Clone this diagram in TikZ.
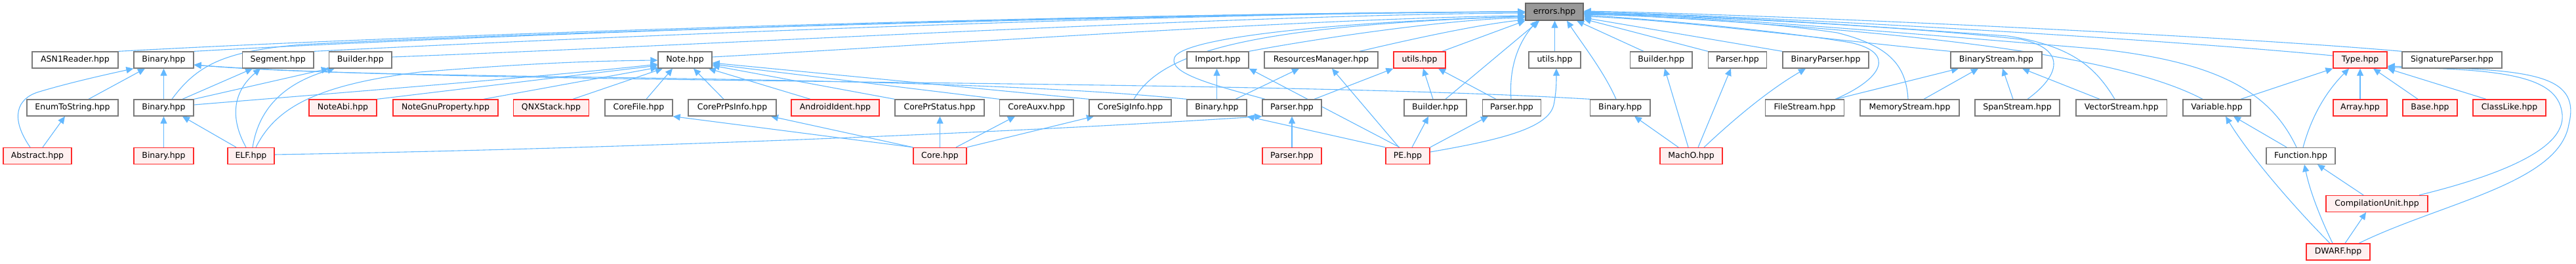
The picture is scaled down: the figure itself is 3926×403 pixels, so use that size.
\documentclass[tikz,border=0pt]{standalone}
\usepackage{fontspec}
\setmainfont{DejaVu Sans}
\usetikzlibrary{arrows.meta}
\definecolor{edgeblue}{HTML}{63B8FF}
\definecolor{boxgray}{HTML}{7A7A7A}
\definecolor{rootfill}{HTML}{999999}
\definecolor{rootdraw}{HTML}{666666}
\definecolor{redfill}{HTML}{FFF0F0}
\definecolor{reddraw}{HTML}{FF2A2A}
\pgfdeclarelayer{bg}
\pgfsetlayers{bg,main}
\begin{document}
\begin{tikzpicture}[x=1pt,y=-1pt,
 gbox/.style={rectangle, inner sep=0pt, minimum height=25pt, line width=1.3pt, font=\fontsize{12.5pt}{15pt}\selectfont, text=black},
 nbox/.style={gbox, draw=boxgray, fill=white},
 rbox/.style={gbox, draw=reddraw, fill=redfill},
 rootbox/.style={gbox, draw=rootdraw, fill=rootfill, minimum height=26pt},
 dep/.style={draw=edgeblue, line width=1.1pt, -{Triangle[length=11pt,width=10pt]}}]
\useasboundingbox (0,0) rectangle (3926,403);
% root
\node[rootbox, minimum width=88pt] (errors) at (2369,18) {errors.hpp};
% row 1
\node[nbox, minimum width=131pt] (asn) at (114.5,91.5) {ASN1Reader.hpp};
\node[nbox, minimum width=91pt] (binA) at (249.5,91.5) {Binary.hpp};
\node[nbox, minimum width=108.5pt] (seg) at (423.75,91.5) {Segment.hpp};
\node[nbox, minimum width=95.5pt] (bldA) at (549.25,91.5) {Builder.hpp};
\node[nbox, minimum width=82pt] (note) at (1044,91.5) {Note.hpp};
\node[nbox, minimum width=94pt] (imp) at (1856,91.5) {Import.hpp};
\node[nbox, minimum width=173pt] (res) at (2013.5,91.5) {ResourcesManager.hpp};
\node[rbox, minimum width=79pt] (utilR) at (2163.5,91.5) {utils.hpp};
\node[nbox, minimum width=79pt] (utilW) at (2369.5,91.5) {utils.hpp};
\node[nbox, minimum width=94.5pt] (bldB) at (2531.75,91.5) {Builder.hpp};
\node[nbox, minimum width=89pt] (parA) at (2648,91.5) {Parser.hpp};
\node[nbox, minimum width=131pt] (bparse) at (2782.5,91.5) {BinaryParser.hpp};
\node[nbox, minimum width=139pt] (bstream) at (3042.5,91.5) {BinaryStream.hpp};
\node[rbox, minimum width=82pt] (type) at (3597,91.5) {Type.hpp};
\node[nbox, minimum width=152pt] (sig) at (3737,91.5) {SignatureParser.hpp};
% row 2
\node[nbox, minimum width=139pt] (enum) at (110.5,164.5) {EnumToString.hpp};
\node[nbox, minimum width=91pt] (binB) at (249.5,164.5) {Binary.hpp};
\node[rbox, minimum width=103pt] (noteabi) at (522.5,164.5) {NoteAbi.hpp};
\node[rbox, minimum width=160pt] (notegnu) at (679,164.5) {NoteGnuProperty.hpp};
\node[rbox, minimum width=114.5pt] (qnx) at (840,164.5) {QNXStack.hpp};
\node[nbox, minimum width=103pt] (corefile) at (973.5,164.5) {CoreFile.hpp};
\node[nbox, minimum width=134pt] (coreprps) at (1116,164.5) {CorePrPsInfo.hpp};
\node[rbox, minimum width=134pt] (android) at (1273,164.5) {AndroidIdent.hpp};
\node[nbox, minimum width=136pt] (coreprst) at (1432,164.5) {CorePrStatus.hpp};
\node[nbox, minimum width=112.5pt] (coreauxv) at (1579.75,164.5) {CoreAuxv.hpp};
\node[nbox, minimum width=125pt] (coresig) at (1722.5,164.5) {CoreSigInfo.hpp};
\node[nbox, minimum width=91pt] (binC) at (1854.5,164.5) {Binary.hpp};
\node[nbox, minimum width=90pt] (parB) at (1969,164.5) {Parser.hpp};
\node[nbox, minimum width=95pt] (bldC) at (2187.5,164.5) {Builder.hpp};
\node[nbox, minimum width=89pt] (parC) at (2304,164.5) {Parser.hpp};
\node[nbox, minimum width=91.5pt] (binD) at (2469.25,164.5) {Binary.hpp};
\node[nbox, minimum width=120pt] (filestream) at (2750.5,164.5) {FileStream.hpp};
\node[nbox, minimum width=151pt] (memstream) at (2910.5,164.5) {MemoryStream.hpp};
\node[nbox, minimum width=129pt] (spanstream) at (3074.5,164.5) {SpanStream.hpp};
\node[nbox, minimum width=138.5pt] (vecstream) at (3233.25,164.5) {VectorStream.hpp};
\node[nbox, minimum width=103pt] (variable) at (3378.5,164.5) {Variable.hpp};
\node[rbox, minimum width=82pt] (array) at (3597,164.5) {Array.hpp};
\node[rbox, minimum width=83pt] (base) at (3703.5,164.5) {Base.hpp};
\node[rbox, minimum width=111pt] (classlike) at (3824.5,164.5) {ClassLike.hpp};
% row 3
\node[rbox, minimum width=104pt] (abstract) at (57,238) {Abstract.hpp};
\node[rbox, minimum width=91pt] (binE) at (249.5,238) {Binary.hpp};
\node[rbox, minimum width=71pt] (elf) at (382.5,238) {ELF.hpp};
\node[rbox, minimum width=81pt] (core) at (1432.5,238) {Core.hpp};
\node[rbox, minimum width=90pt] (parD) at (1969,238) {Parser.hpp};
\node[rbox, minimum width=67pt] (pe) at (2145.5,238) {PE.hpp};
\node[rbox, minimum width=95pt] (macho) at (2577.5,238) {MachO.hpp};
\node[nbox, minimum width=105pt] (function) at (3506.5,238) {Function.hpp};
% rows 4-5
\node[rbox, minimum width=155pt] (cu) at (3622.5,311) {CompilationUnit.hpp};
\node[rbox, minimum width=97pt] (dwarf) at (3563.5,384.5) {DWARF.hpp};

\begin{pgfonlayer}{bg}
% ---- into errors.hpp, left side
\draw[dep] (asn.north east) .. controls (700,50) and (1700,20) .. (errors.west |- 0,18);
\draw[dep] (binA.north east) .. controls (800,50) and (1700,20) .. (errors.west |- 0,18);
\draw[dep] (seg.north east) .. controls (1000,52) and (1800,20) .. (errors.west |- 0,18);
\draw[dep] (bldA.east |- 0,87) .. controls (1100,68) and (1900,22) .. (errors.west |- 0,20);
\draw[dep] (binB.north -| 262,0) .. controls (300,100) and (340,78) .. (460,68) .. controls (900,45) and (1900,20) .. (errors.west |- 0,18);
\draw[dep] (note.east |- 0,87) .. controls (1400,70) and (2000,28) .. (errors.west |- 0,24);
\draw[dep] (coresig.north -| 1728,0) .. controls (1770,80) and (1900,40) .. (errors.west |- 0,25);
\draw[dep] (parB.north -| 1928,0) .. controls (1850,130) and (1780,112) .. (1790,88) .. controls (1800,60) and (2000,35) .. (errors.west |- 0,25);
\draw[dep] (imp.north east) .. controls (2000,60) and (2200,30) .. (errors.west |- 0,27);
\draw[dep] (res.north -| 2072,0) .. controls (2150,60) and (2250,38) .. (errors.west |- 0,30);
\draw[dep] (utilR.north -| 2198,0) -- (errors.south west);
\draw[dep] (bldC.north -| 2203,0) -- (errors.south -| 2346,0);
\draw[dep] (parC.north -| 2303,0) .. controls (2300,110) and (2310,70) .. (errors.south -| 2343,0);
\draw[dep] (utilW.north) -- (utilW.north |- errors.south);
\draw[dep] (binD.north -| 2463,0) .. controls (2445,110) and (2410,65) .. (errors.south -| 2388,0);
\draw[dep] (bldB.north -| 2505,0) -- (errors.south -| 2403,0);
% ---- into errors.hpp, right side
\draw[dep] (parA.north west) -- (errors.east |- 0,29);
\draw[dep] (bparse.north west) -- (errors.east |- 0,27);
\draw[dep] (bstream.north west) .. controls (2800,62) and (2550,30) .. (errors.east |- 0,25);
\draw[dep] (filestream.north -| 2797,0) .. controls (2870,120) and (2890,80) .. (2820,65) .. controls (2700,45) and (2500,28) .. (errors.east |- 0,23);
\draw[dep] (memstream.north -| 2908,0) .. controls (2905,100) and (2880,70) .. (2800,50) .. controls (2700,35) and (2550,25) .. (errors.east |- 0,22);
\draw[dep] (spanstream.north -| 3090,0) .. controls (3140,115) and (3150,75) .. (3080,60) .. controls (2900,40) and (2600,25) .. (errors.east |- 0,21);
\draw[dep] (vecstream.north -| 3223,0) .. controls (3195,105) and (3160,70) .. (3060,55) .. controls (2850,40) and (2600,22) .. (errors.east |- 0,20);
\draw[dep] (variable.north -| 3357,0) .. controls (3250,95) and (3000,50) .. (errors.east |- 0,20);
\draw[dep] (function.north -| 3500,0) .. controls (3460,140) and (3380,95) .. (3200,75) .. controls (2900,50) and (2600,25) .. (errors.east |- 0,19);
\draw[dep] (type.west |- 0,85) .. controls (3300,60) and (2700,25) .. (errors.east |- 0,18);
\draw[dep] (sig.north west) .. controls (3400,55) and (2700,22) .. (errors.east |- 0,17);
% ---- Abstract / ELF area
\draw[dep] (abstract.north -| 46,0) .. controls (15,180) and (25,150) .. (60,140) .. controls (110,125) and (170,112) .. (binA.south west);
\draw[dep] (abstract.north -| 65,0) -- (enum.south -| 99,0);
\draw[dep] (enum.north -| 135,0) -- (binA.south -| 221,0);
\draw[dep] (binB.north) -- (binA.south);
\draw[dep] (binB.north -| 278,0) -- (seg.south -| 385,0);
\draw[dep] (binB.north east) -- (bldA.south west);
\draw[dep] (binB.east |- 0,160) .. controls (600,135) and (850,115) .. (note.west |- 0,98);
\draw[dep] (binE.north) -- (binB.south);
\draw[dep] (elf.north -| 360,0) -- (binB.south -| 278,0);
\draw[dep] (elf.north -| 375,0) .. controls (350,180) and (355,140) .. (seg.south -| 397,0);
\draw[dep] (elf.north -| 385,0) .. controls (395,160) and (440,125) .. (bldA.south -| 510,0);
\draw[dep] (elf.north -| 390,0) .. controls (420,165) and (480,130) .. (640,110) .. controls (800,97) and (900,93) .. (note.west |- 0,92);
\draw[dep] (elf.east |- 0,236) .. controls (900,228) and (1500,205) .. (parB.south west);
% ---- Note
\draw[dep] (noteabi.north east) -- (note.west |- 0,100);
\draw[dep] (notegnu.north -| 737,0) -- (note.west |- 0,103);
\draw[dep] (qnx.north -| 873,0) -- (note.south -| 1010,0);
\draw[dep] (corefile.north -| 985,0) -- (note.south -| 1025,0);
\draw[dep] (coreprps.north -| 1103,0) -- (note.south -| 1057,0);
\draw[dep] (android.north -| 1235,0) -- (note.south -| 1080,0);
\draw[dep] (coreprst.north west) -- (note.east |- 0,100);
\draw[dep] (coreauxv.north west) -- (note.east |- 0,98);
\draw[dep] (coresig.north west) -- (note.east |- 0,96);
% ---- Core
\draw[dep] (core.north west) -- (corefile.south east);
\draw[dep] (core.north west) -- (coreprps.south -| 1175,0);
\draw[dep] (core.north) -- (core.north |- coreprst.south);
\draw[dep] (core.north -| 1457,0) -- (coreauxv.south -| 1547,0);
\draw[dep] (core.north east) -- (coresig.south -| 1667,0);
% ---- Binary.hpp (abstract) from PE / MachO binaries
\draw[dep] (binC.north west) .. controls (1400,110) and (600,125) .. (binA.east |- 0,99);
\draw[dep] (binD.north west) .. controls (1900,120) and (700,130) .. (binA.east |- 0,99);
% ---- PE area
\draw[dep] (binC.north) -- (binC.north |- imp.south);
\draw[dep] (binC.north -| 1883,0) -- (res.south -| 1980,0);
\draw[dep] (parD.north) -- (parB.south);
\draw[dep] (parB.north -| 2003,0) -- (utilR.south west);
\draw[dep] (pe.north -| 2133,0) -- (imp.south east);
\draw[dep] (pe.north -| 2132,0) -- (res.south -| 2030,0);
\draw[dep] (pe.north west) -- (binC.south east);
\draw[dep] (pe.north -| 2152,0) -- (bldC.south -| 2177,0);
\draw[dep] (pe.north east) -- (parC.south -| 2268,0);
\draw[dep] (pe.east |- 0,232) .. controls (2290,213) and (2360,195) .. (2368,160) .. controls (2372,140) and (2372,125) .. (utilW.south -| 2372,0);
\draw[dep] (bldC.north -| 2184,0) -- (utilR.south -| 2169,0);
\draw[dep] (parC.north -| 2280,0) -- (utilR.south -| 2192,0);
% ---- MachO area
\draw[dep] (macho.north -| 2558,0) -- (binD.south -| 2491,0);
\draw[dep] (macho.north -| 2573,0) -- (bldB.south -| 2537,0);
\draw[dep] (macho.north -| 2588,0) -- (parA.south -| 2638,0);
\draw[dep] (macho.north -| 2597,0) .. controls (2650,175) and (2700,135) .. (bparse.south -| 2752,0);
% ---- streams
\draw[dep] (filestream.north -| 2798,0) -- (bstream.south -| 2985,0);
\draw[dep] (memstream.north -| 2932,0) -- (bstream.south -| 3015,0);
\draw[dep] (spanstream.north -| 3068,0) -- (bstream.south -| 3052,0);
\draw[dep] (vecstream.north -| 3200,0) -- (bstream.south -| 3082,0);
% ---- DWARF area
\draw[dep] (variable.north -| 3415,0) -- (type.south west);
\draw[dep] (function.north -| 3510,0) .. controls (3525,170) and (3550,135) .. (type.south -| 3580,0);
\draw[dep] (array.north) -- (type.south);
\draw[dep] (base.north -| 3685,0) -- (type.south -| 3617,0);
\draw[dep] (classlike.north -| 3789,0) -- (type.south east);
\draw[dep] (function.north -| 3485,0) -- (variable.south -| 3404,0);
\draw[dep] (dwarf.north -| 3551,0) .. controls (3500,320) and (3430,240) .. (variable.south -| 3392,0);
\draw[dep] (dwarf.north -| 3555,0) .. controls (3535,330) and (3520,290) .. (function.south -| 3512,0);
\draw[dep] (cu.north -| 3602,0) -- (function.south -| 3532,0);
\draw[dep] (dwarf.north -| 3574,0) -- (cu.south -| 3606,0);
\draw[dep] (cu.north -| 3687,0) .. controls (3800,270) and (3910,230) .. (3905,175) .. controls (3900,120) and (3830,105) .. (type.east |- 0,103);
\draw[dep] (dwarf.north -| 3595,0) .. controls (3720,310) and (3900,280) .. (3915,190) .. controls (3935,110) and (3850,106) .. (type.east |- 0,101);
\end{pgfonlayer}
\end{tikzpicture}
\end{document}
